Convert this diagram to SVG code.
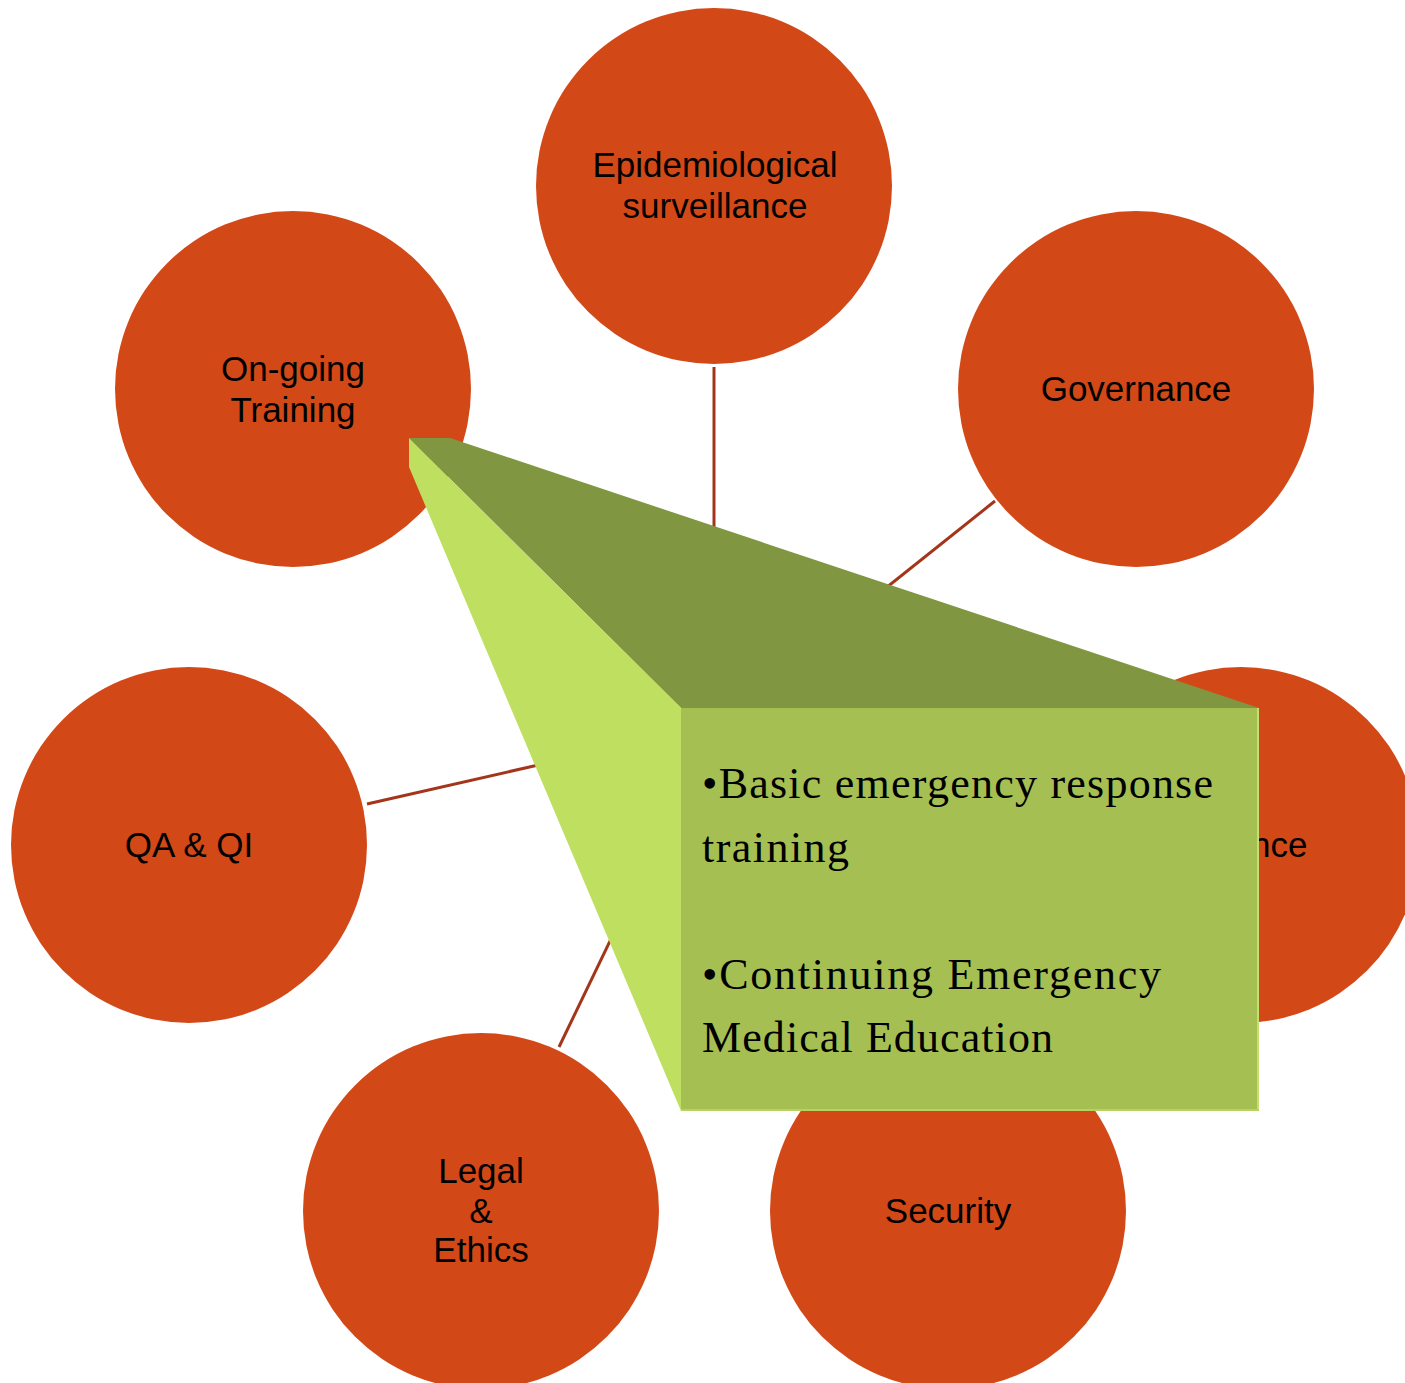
<svg xmlns="http://www.w3.org/2000/svg" width="1405" height="1383" viewBox="0 0 1405 1383">
<style>
.node circle{fill:#D34817;}
.lbl{font-family:"Liberation Sans",Arial,sans-serif;font-size:35px;fill:#000;text-anchor:middle;}
.conn line{stroke:#A3361A;stroke-width:3;}
.ct{font-family:"Liberation Serif","Times New Roman",serif;font-size:44px;fill:#000;}
</style>
<rect width="1405" height="1383" fill="#fff"/>
<g id="connectors" class="conn">
<line x1="714" y1="367" x2="714" y2="725"/>
<line x1="995" y1="501" x2="714" y2="725"/>
<line x1="367" y1="804" x2="714" y2="725"/>
<line x1="559" y1="1047" x2="714" y2="725"/>
</g>
<g id="node-epi" class="node">
<circle cx="714" cy="186" r="178"/>
<text class="lbl" x="715" y="177">Epidemiological</text>
<text class="lbl" x="715" y="218">surveillance</text>
</g>
<g id="node-training" class="node">
<circle cx="293" cy="389" r="178"/>
<text class="lbl" x="293" y="381">On-going</text>
<text class="lbl" x="293" y="422">Training</text>
</g>
<g id="node-governance" class="node">
<circle cx="1136" cy="389" r="178"/>
<text class="lbl" x="1136" y="401">Governance</text>
</g>
<g id="node-qa" class="node">
<circle cx="189" cy="845" r="178"/>
<text class="lbl" x="189" y="857">QA &amp; QI</text>
</g>
<g id="node-right" class="node">
<circle cx="1241" cy="845" r="178"/>
<text class="lbl" x="1251" y="857" style="text-anchor:start">nce</text>
</g>
<g id="node-legal" class="node">
<circle cx="481" cy="1211" r="178"/>
<text class="lbl" x="481" y="1183">Legal</text>
<text class="lbl" x="481" y="1223">&amp;</text>
<text class="lbl" x="481" y="1262">Ethics</text>
</g>
<g id="node-security" class="node">
<circle cx="948" cy="1211" r="178"/>
<text class="lbl" x="948" y="1223">Security</text>
</g>
<g id="callout">
<polygon points="409,438 450,438 1259,708 681,708" fill="#819640"/>
<polygon points="409,438 681,708 681,1111 409,467" fill="#BEDF60"/>
<rect x="681" y="708" width="578" height="403" fill="#A6BF52"/>
<line x1="1258" y1="708" x2="1258" y2="1111" stroke="#C4E070" stroke-width="2"/>
<line x1="681" y1="1110" x2="1259" y2="1110" stroke="#B5D262" stroke-width="2"/>
<text class="ct" x="702" y="798" textLength="511" lengthAdjust="spacing">•Basic emergency response</text>
<text class="ct" x="702" y="862" textLength="147" lengthAdjust="spacing">training</text>
<text class="ct" x="702" y="989" textLength="459" lengthAdjust="spacing">•Continuing Emergency</text>
<text class="ct" x="702" y="1052" textLength="351" lengthAdjust="spacing">Medical Education</text>
</g>
</svg>
